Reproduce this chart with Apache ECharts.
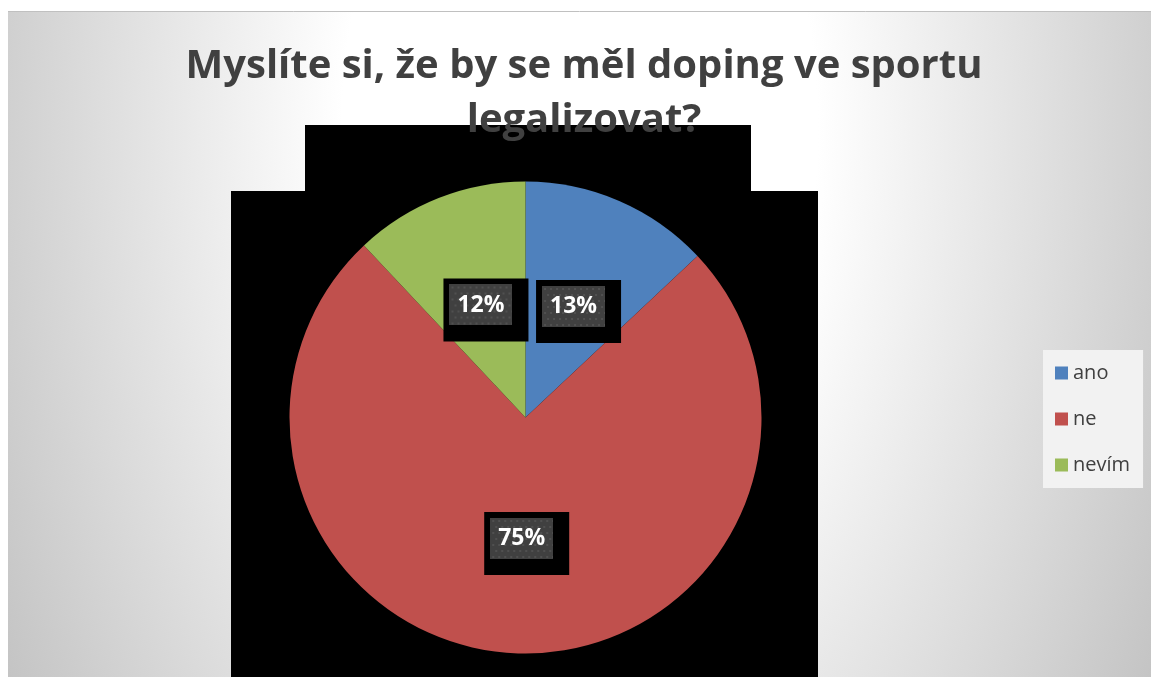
<!DOCTYPE html>
<html>
<head>
<meta charset="utf-8">
<script src="https://cdn.jsdelivr.net/npm/echarts@6/dist/echarts.min.js"></script>
<style>
html,body{margin:0;padding:0;background:#fff;}
#c{width:1151px;height:677px;}
</style>
</head>
<body>
<div id="c"></div>
<script>
const categories = ['ano', 'ne', 'nevím'];
const values = [13, 75, 12];
const colors = ['#4F81BD', '#C0504D', '#9BBB59'];
const titleText = 'Myslíte si, že by se měl doping ve sportu\nlegalizovat?';

// dotted dark label fill
const pat = document.createElement('canvas');
pat.width = 63; pat.height = 41;
(function () {
  const g = pat.getContext('2d');
  g.fillStyle = '#404040';
  g.fillRect(0, 0, 63, 41);
  g.fillStyle = '#505050';
  for (let y = 2, row = 0; y < 41; y += 6, row++) {
    for (let x = (row % 2 ? 5 : 2); x < 63; x += 6) {
      g.fillRect(x, y, 2, 2);
    }
  }
})();

const chart = echarts.init(document.getElementById('c'), null, {renderer: 'canvas'});
const data = categories.map((n, i) => ({name: n, value: values[i], itemStyle: {color: colors[i]}}));

chart.setOption({
  backgroundColor: '#ffffff',
  animation: false,
  title: {
    text: titleText,
    left: 584,
    top: 40,
    padding: 0,
    textAlign: 'center',
    textStyle: {
      fontFamily: 'Open Sans',
      fontWeight: 'bold',
      fontSize: 40,
      lineHeight: 54,
      color: '#404040'
    },
    z: 10
  },
  graphic: [
    {
      type: 'rect', x: 8, y: 11, scaleY: 666 / 400, originY: 0, z: -10, silent: true,
      shape: {x: 0, y: 0, width: 1143, height: 400},
      style: {
        fill: {
          type: 'radial', x: 572, y: 71.5, r: 660, global: true,
          colorStops: [{offset: 0, color: '#ffffff'}, {offset: 0.36, color: '#ffffff'}, {offset: 1, color: '#c4c4c4'}]
        }
      }
    },
    {type: 'line', z: -9, silent: true, shape: {x1: 8, y1: 11.5, x2: 1151, y2: 11.5}, style: {stroke: '#c0c0c0', lineWidth: 1}},
    {type: 'rect', z: -5, silent: true, shape: {x: 305, y: 125, width: 446, height: 66}, style: {fill: '#000'}},
    {type: 'rect', z: -5, silent: true, shape: {x: 231, y: 191, width: 587, height: 486}, style: {fill: '#000'}}
  ],
  legend: {
    orient: 'vertical',
    left: 1043,
    top: 350,
    backgroundColor: '#f2f2f2',
    padding: [13, 13, 13, 12],
    itemWidth: 13,
    itemHeight: 13,
    itemGap: 26,
    icon: 'rect',
    data: categories,
    textStyle: {fontFamily: 'Open Sans', fontSize: 20, color: '#404040'}
  },
  series: [{
    type: 'pie',
    center: [525.5, 417.5],
    radius: 236,
    startAngle: 90,
    clockwise: true,
    data: data,
    itemStyle: {borderWidth: 0},
    emphasis: {disabled: true},
    label: {
      show: true,
      position: 'inside',
      formatter: p => '{v|' + Math.round(p.percent) + '%}',
      backgroundColor: '#000',
      padding: [6, 16, 16, 6],
      rich: {
        v: {
          width: 63, height: 41, lineHeight: 41, align: 'center', verticalAlign: 'middle',
          backgroundColor: {image: pat},
          color: '#ffffff', fontFamily: 'Open Sans', fontWeight: 'bold', fontSize: 23
        }
      }
    },
    labelLine: {show: false},
    labelLayout: {dx: 5, dy: 5}
  }]
});
</script>
</body>
</html>
